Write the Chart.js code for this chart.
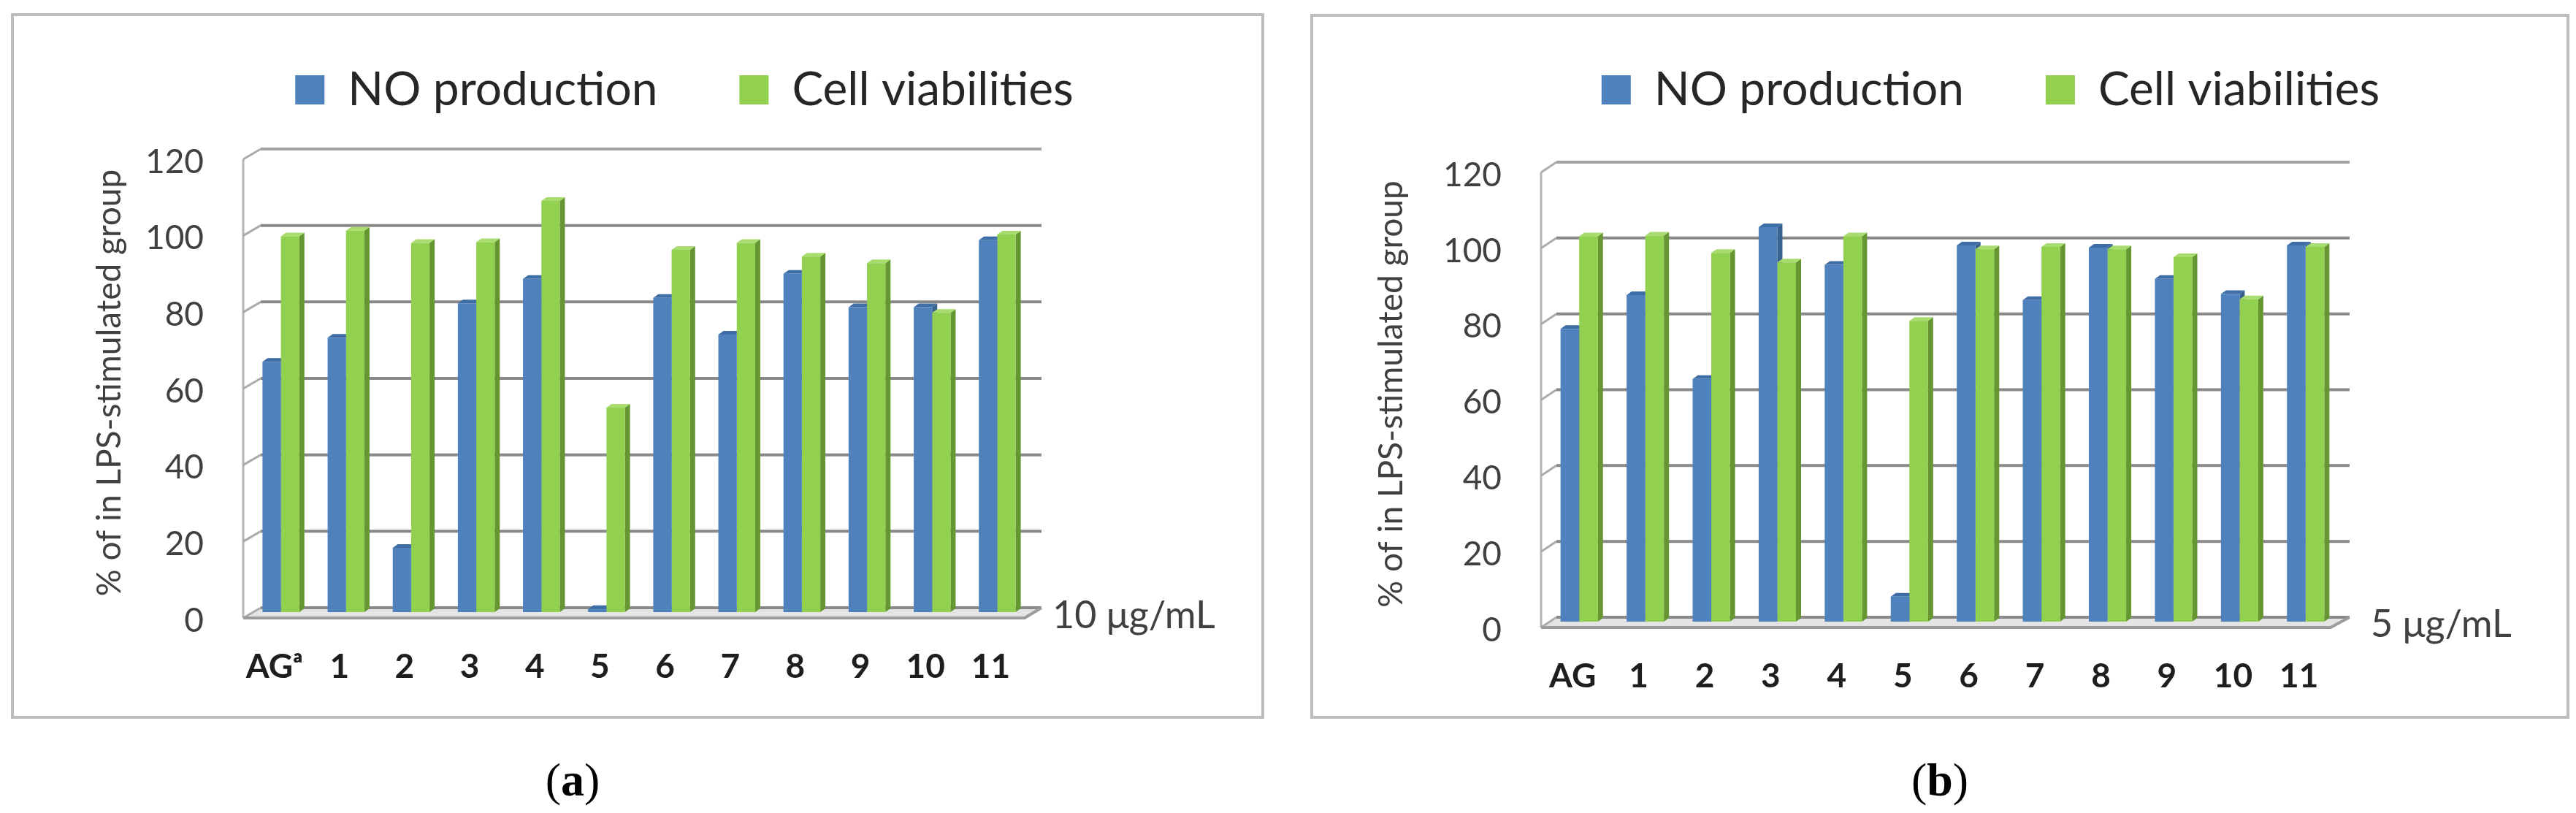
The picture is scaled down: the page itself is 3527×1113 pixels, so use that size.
<!DOCTYPE html>
<html><head><meta charset="utf-8">
<script src="https://cdn.jsdelivr.net/npm/chart.js@4.4.1/dist/chart.umd.min.js"></script>
<style>
html,body{margin:0;padding:0;background:#fff;width:3527px;height:1113px;overflow:hidden;position:relative}
.frame{position:absolute;border:4px solid #bdbdbd;box-sizing:border-box}
.cap{position:absolute;font-family:"Liberation Serif","DejaVu Serif",serif;font-size:64px;color:#000;transform:translate(-50%,-50%);white-space:nowrap;line-height:1}
.wrap{position:absolute}
canvas{display:block}
</style></head><body>
<div class="frame" style="left:15px;top:18px;width:1716px;height:966px"></div>
<div class="frame" style="left:1794px;top:19px;width:1724px;height:965px"></div>
<div class="wrap" style="left:0px;top:-21px"><canvas id="ca" width="1874" height="1134" style="width:1874px;height:1134px"></canvas></div>
<div class="wrap" style="left:1763px;top:-21px"><canvas id="cb" width="1925" height="1134" style="width:1925px;height:1134px"></canvas></div>
<div class="cap" style="left:784px;top:1068px">(<b>a</b>)</div>
<div class="cap" style="left:2656px;top:1068px">(<b>b</b>)</div>
<script>
// ---- data ----
const seriesNames = ['NO production', 'Cell viabilities'];
const categoriesA = ['AG\u1D43', '1', '2', '3', '4', '5', '6', '7', '8', '9', '10', '11'];
const categoriesB = ['AG', '1', '2', '3', '4', '5', '6', '7', '8', '9', '10', '11'];
const noProductionA   = [65.5, 71.8, 16.8, 80.8, 87.2, 0.8, 82.2, 72.6, 88.5, 79.8, 79.8, 97.3];
const cellViabilityA  = [98.3, 99.8, 96.6, 96.8, 107.6, 53.5, 94.8, 96.6, 93.0, 91.3, 78.3, 98.8];
const noProductionB   = [77.2, 86.1, 64.0, 104.0, 94.1, 6.6, 99.2, 84.8, 98.6, 90.4, 86.4, 99.2];
const cellViabilityB  = [101.6, 101.8, 97.2, 94.7, 101.6, 79.3, 98.2, 98.8, 98.2, 96.1, 85.0, 98.8];
const yTickValues = [0, 20, 40, 60, 80, 100, 120];
const doseA = '10 \u03BCg/mL';
const doseB = '5 \u03BCg/mL';
const yTitle = '% of in LPS-stimulated group';

const FONT = 'Lato, "Open Sans", "Noto Sans", sans-serif';
const BLUE = '#4f81bd', BLUE_SIDE = '#38618f', BLUE_TOP = '#3f6ea6';
const GREEN = '#92d050', GREEN_SIDE = '#659632', GREEN_TOP = '#a8dc6e';

const depth3d = {
  id: 'depth3d',
  beforeDatasetsDraw(chart, args, o) {
    const ctx = chart.ctx, ys = chart.scales.y, ca = chart.chartArea;
    const L = ca.left, R = ca.right;
    const fx = L + o.frontX, bx = L + o.backX, rx = R + o.rightX, frx = R + o.floorRightX;
    const back = v => ys.getPixelForValue(v) - 6;
    const front = v => ys.getPixelForValue(v) + 8;
    ctx.save();
    ctx.fillStyle = '#e4e4e4';
    ctx.beginPath();
    ctx.moveTo(fx, front(0)); ctx.lineTo(bx, back(0)); ctx.lineTo(rx, back(0)); ctx.lineTo(frx, front(0));
    ctx.closePath(); ctx.fill();
    ctx.strokeStyle = '#b5b5b5'; ctx.lineWidth = 3;
    ctx.beginPath(); ctx.moveTo(fx, front(ys.max)); ctx.lineTo(fx, front(0)); ctx.stroke();
    ys.ticks.forEach(t => {
      const v = t.value;
      ctx.strokeStyle = '#ababab'; ctx.lineWidth = 3;
      ctx.beginPath(); ctx.moveTo(fx, front(v)); ctx.lineTo(bx, back(v)); ctx.stroke();
      ctx.strokeStyle = v === ys.max ? '#a3a3a3' : '#898989'; ctx.lineWidth = 4;
      ctx.beginPath(); ctx.moveTo(bx, back(v)); ctx.lineTo(rx, back(v)); ctx.stroke();
    });
    ctx.strokeStyle = '#9c9c9c'; ctx.lineWidth = 4;
    ctx.beginPath(); ctx.moveTo(fx, front(0)); ctx.lineTo(frx, front(0)); ctx.lineTo(rx, back(0)); ctx.stroke();
    chart.getSortedVisibleDatasetMetas().forEach(meta => {
      const ds = chart.data.datasets[meta.index];
      meta.data.forEach(bar => {
        const p = bar.getProps(['x', 'y', 'base', 'width'], true);
        const l = p.x - p.width / 2, r = p.x + p.width / 2, dx = o.dx, dy = o.dy;
        ctx.fillStyle = ds.sideColor;
        ctx.beginPath();
        ctx.moveTo(r, p.base); ctx.lineTo(r, p.y); ctx.lineTo(r + dx, p.y - dy); ctx.lineTo(r + dx, p.base - dy);
        ctx.closePath(); ctx.fill();
        ctx.fillStyle = ds.topColor;
        ctx.beginPath();
        ctx.moveTo(l, p.y); ctx.lineTo(l + dx, p.y - dy); ctx.lineTo(r + dx, p.y - dy); ctx.lineTo(r, p.y);
        ctx.closePath(); ctx.fill();
      });
    });
    ctx.restore();
  }
};

function makeChart(id, cats, noVals, cellVals, dose, cfg) {
  return new Chart(document.getElementById(id), {
    type: 'bar',
    data: {
      labels: cats,
      datasets: [
        { label: seriesNames[0], data: noVals, backgroundColor: BLUE, borderWidth: 0,
          sideColor: BLUE_SIDE, topColor: BLUE_TOP, categoryPercentage: 0.565, barPercentage: 1.0, yAxisID: 'y' },
        { label: seriesNames[1], data: cellVals, backgroundColor: GREEN, borderWidth: 0,
          sideColor: GREEN_SIDE, topColor: GREEN_TOP, categoryPercentage: 0.565, barPercentage: 1.0, yAxisID: 'y' }
      ]
    },
    options: {
      responsive: false,
      animation: false,
      devicePixelRatio: 1,
      events: [],
      layout: { padding: 0 },
      plugins: {
        tooltip: { enabled: false },
        legend: {
          display: true, position: 'top',
          labels: { font: { family: FONT, size: 64 }, color: '#262626', boxWidth: 40, boxHeight: 40, padding: 112 }
        },
        title: { display: true, text: '', position: 'top', weight: 500, font: { size: cfg.spacer, lineHeight: 1 }, padding: 0 },
        depth3d: { frontX: cfg.frontX, backX: cfg.backX, rightX: cfg.rightX, floorRightX: cfg.floorRightX, dx: 7, dy: 5 }
      },
      scales: {
        x: {
          type: 'category',
          grid: { display: false, drawTicks: false },
          border: { display: false },
          ticks: { font: { family: FONT, size: 46, weight: 'bold' }, color: '#1e1e1e', padding: 48, labelOffset: -9, maxRotation: 0, autoSkip: false },
          afterFit: s => { s.height = cfg.xHeight; }
        },
        y: {
          type: 'linear', position: 'left', min: 0, max: 120,
          grid: { display: false, drawTicks: false },
          border: { display: false },
          afterBuildTicks: s => { s.ticks = yTickValues.map(v => ({ value: v })); },
          ticks: { font: { family: FONT, size: 46 }, color: '#404040', padding: 61, labelOffset: 12 },
          title: { display: true, text: yTitle, font: { family: FONT, size: 46 }, color: '#404040', padding: { top: cfg.titlePad, bottom: 0 } },
          afterFit: s => { s.width = cfg.leftWidth; }
        },
        y2: {
          type: 'linear', position: 'right', min: 0, max: 120,
          grid: { display: false, drawTicks: false },
          border: { display: false },
          afterBuildTicks: s => { s.ticks = [{ value: 0 }]; },
          ticks: { font: { family: FONT, size: 52 }, color: '#404040', padding: cfg.dosePad, labelOffset: cfg.doseOffset, callback: () => dose },
          afterFit: s => { s.width = cfg.rightWidth; }
        }
      }
    },
    plugins: [depth3d]
  });
}

makeChart('ca', categoriesA, noProductionA, cellViabilityA, doseA,
  { spacer: 45, xHeight: 275, leftWidth: 340, rightWidth: 464, titlePad: 123, dosePad: 31, doseOffset: 5,
    frontX: -7, backX: 17, rightX: 16, floorRightX: -7 });
makeChart('cb', categoriesB, noProductionB, cellViabilityB, doseB,
  { spacer: 63, xHeight: 262, leftWidth: 354, rightWidth: 486, titlePad: 115, dosePad: 44, doseOffset: 4,
    frontX: -7, backX: 14, rightX: 15, floorRightX: -11 });
</script>
</body></html>
